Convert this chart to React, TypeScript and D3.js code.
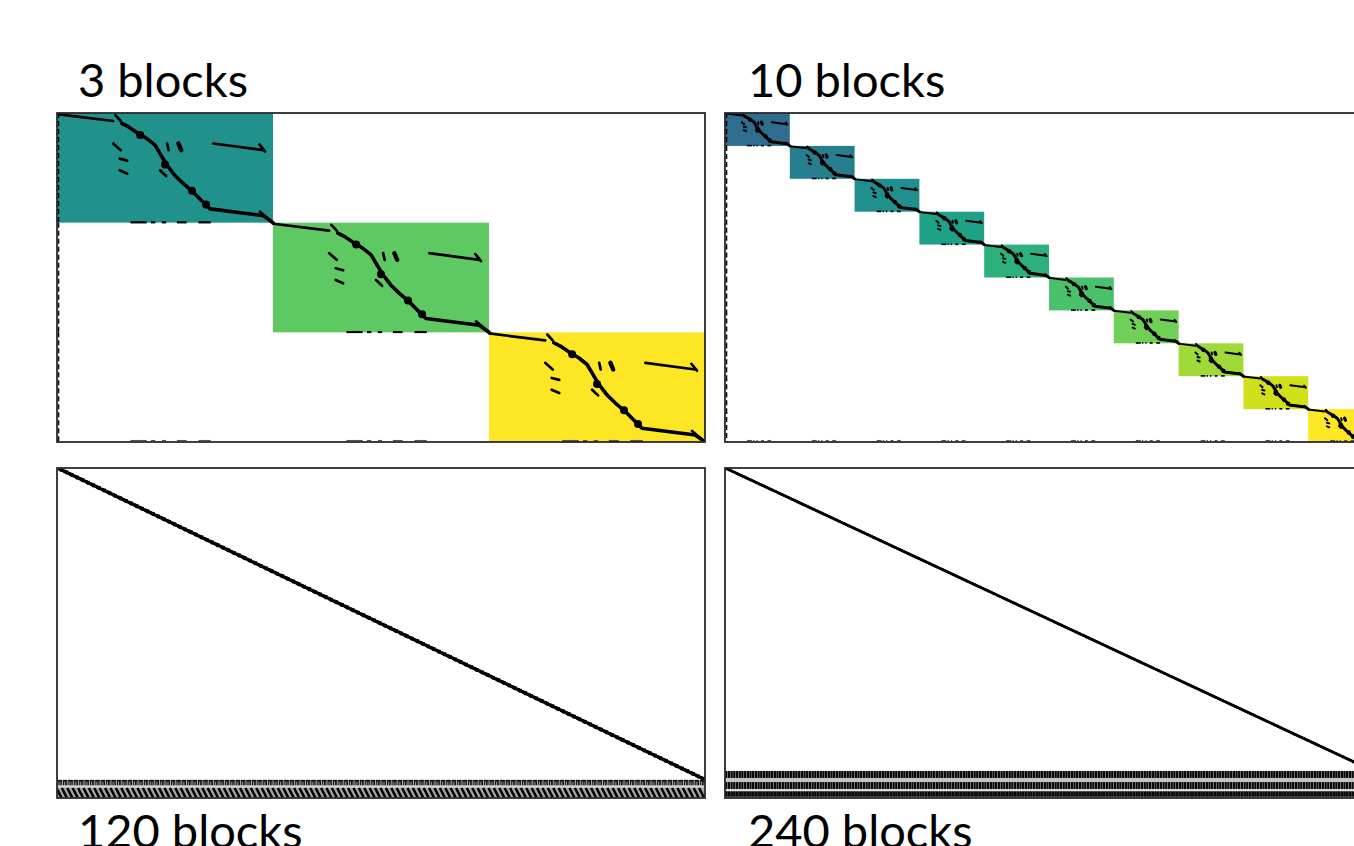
import React from "react";
import * as d3 from "d3";

// ---------- data ----------
const panelTitles = ["3 blocks", "10 blocks", "120 blocks", "240 blocks"];
const blockCounts = [3, 10, 120, 240];
// fraction of matrix rows covered by the diagonal blocks (the rest are coupling rows)
const blockRowShare = [1, 1, 0.945, 0.918];
// viridis position of the first block (last block is always 1)
const colorStart = [0.5, 0.35, 0.35, 0.35];

// sparsity pattern of one block, in unit block coordinates (u = column, v = row)
const patternCurve: [number, number][] = [
  [0.3, 0.095], [0.33, 0.125], [0.376, 0.186], [0.415, 0.232], [0.454, 0.293],
  [0.477, 0.37], [0.5, 0.447], [0.515, 0.49], [0.546, 0.57], [0.585, 0.645],
  [0.63, 0.72], [0.67, 0.8], [0.693, 0.844], [0.708, 0.874], [0.955, 0.936], [1, 1],
];
const patternSegments: [number, number, number, number][] = [
  [0, 0.01, 0.26, 0.073],
  [0.27, 0.02, 0.295, 0.073],
  [0.26, 0.278, 0.295, 0.339],
  [0.29, 0.416, 0.325, 0.434],
  [0.29, 0.523, 0.325, 0.553],
  [0.477, 0.523, 0.505, 0.575],
  [0.51, 0.278, 0.517, 0.339],
  [0.724, 0.278, 0.955, 0.339],
  [0.937, 0.287, 0.963, 0.35],
  [0.94, 0.9, 1, 1],
];
const patternThick: [number, number, number, number][] = [
  [0.562, 0.278, 0.575, 0.339],
];
const patternBlobs: [number, number][] = [
  [0.385, 0.2], [0.5, 0.47], [0.625, 0.71], [0.69, 0.835],
];
// entries of each block in the last rows (u ranges)
const bottomDashes: [number, number][] = [
  [0.34, 0.415], [0.435, 0.455], [0.485, 0.505], [0.555, 0.6], [0.655, 0.712],
];

// coupling-row bands below the blocks (fractions of the coupling strip): [from, to, shade]
const couplingBands120: [number, number, string][] = [
  [0.1, 0.32, "#a8a8a8"], [0.32, 0.42, "#d4d4d4"], [0.42, 0.98, "#a8a8a8"],
];
const couplingBlocks120: [number, number, number, number][] = [
  [0.05, 0.0, 0.95, 0.11], // top row per block
];
const couplingTicks120: number[] = [0.2, 0.55, 0.8];
const couplingSlash120: [number, number, number, number] = [-0.1, 0.45, 0.8, 0.97];

const couplingBands240: [number, number, string][] = [
  [0.26, 0.41, "#c4c4c4"], [0.67, 0.74, "#e0e0e0"], [0.74, 0.98, "#8a8a8a"],
];
const couplingBlocks240: [number, number, number, number][] = [
  [0.0, 0.0, 0.9, 0.26],
  [0.0, 0.41, 0.88, 0.67],
  [0.0, 0.76, 0.93, 0.95],
];

// ---------- layout / styles ----------
const layout = [
  { x: 57, y: 113, w: 648, h: 329, tx: 78, ty: 97, curveW: 3.6, segW: 2.7, blobR: 4, fill: true, leftDash: true },
  { x: 725, y: 113, w: 648, h: 329, tx: 748, ty: 97, curveW: 3.0, segW: 2.0, blobR: 2.2, fill: true, leftDash: true },
  { x: 57, y: 468, w: 648, h: 330, tx: 78, ty: 848, curveW: 3.1, segW: 1.8, blobR: 1.1, fill: false, leftDash: false },
  { x: 725, y: 468, w: 648, h: 330, tx: 748, ty: 848, curveW: 2.6, segW: 1.4, blobR: 0.8, fill: false, leftDash: false },
];

function Panel({ idx }: { idx: number }) {
  const L = layout[idx];
  const n = blockCounts[idx];
  const x = d3.scaleLinear().domain([0, n]).range([L.x, L.x + L.w]);
  const yEnd = L.y + L.h * blockRowShare[idx];
  const y = d3.scaleLinear().domain([0, n]).range([L.y, yEnd]);
  const blocks = d3.range(n);
  const t0 = colorStart[idx];
  const color = (i: number) => d3.interpolateViridis(n === 1 ? 1 : t0 + ((1 - t0) * i) / (n - 1));
  const clipId = `clip${idx}`;
  const line = (i: number) =>
    d3.line<[number, number]>().x((d) => x(i + d[0])).y((d) => y(i + d[1]))(patternCurve) || "";

  const stripTop = yEnd;
  const stripH = L.y + L.h - yEnd;
  const sy = d3.scaleLinear().domain([0, 1]).range([stripTop, stripTop + stripH]);

  return (
    <g>
      <clipPath id={clipId}>
        <rect x={L.x} y={L.y} width={L.w} height={L.h} />
      </clipPath>
      <g clipPath={`url(#${clipId})`}>
        <rect x={L.x} y={L.y} width={L.w} height={L.h} fill="#fff" />
        {L.fill &&
          blocks.map((i) => (
            <rect key={"f" + i} x={x(i)} y={y(i)} width={x(i + 1) - x(i)} height={y(i + 1) - y(i)} fill={color(i)} />
          ))}
        {blocks.map((i) => (
          <g key={"p" + i}>
            <path d={line(i)} fill="none" stroke="#000" strokeWidth={L.curveW} strokeLinejoin="round" strokeLinecap="round" />
            {patternSegments.map((s, k) => (
              <line key={k} x1={x(i + s[0])} y1={y(i + s[1])} x2={x(i + s[2])} y2={y(i + s[3])}
                stroke="#000" strokeWidth={L.segW} strokeLinecap="round" />
            ))}
            {patternThick.map((s, k) => (
              <line key={"t" + k} x1={x(i + s[0])} y1={y(i + s[1])} x2={x(i + s[2])} y2={y(i + s[3])}
                stroke="#000" strokeWidth={L.segW * 1.6} strokeLinecap="round" />
            ))}
            {patternBlobs.map((b, k) => (
              <circle key={"b" + k} cx={x(i + b[0])} cy={y(i + b[1])} r={L.blobR} fill="#000" />
            ))}
            {L.fill &&
              bottomDashes.map((d, k) => (
                <line key={"d" + k} x1={x(i + d[0])} x2={x(i + d[1])} y1={y(i + 1) - 0.3} y2={y(i + 1) - 0.3}
                  stroke="#000" strokeWidth={L.segW * 0.8} />
              ))}
            {L.fill &&
              bottomDashes.map((d, k) => (
                <line key={"c" + k} x1={x(i + d[0])} x2={x(i + d[1])} y1={L.y + L.h - 1.4} y2={L.y + L.h - 1.4}
                  stroke="#555" strokeWidth={1.3} />
              ))}
            {L.leftDash && (
              <line x1={L.x + 1.6} x2={L.x + 1.6} y1={y(i)} y2={y(i + 1)} stroke="#000" strokeWidth={1.4}
                strokeDasharray="5 3" />
            )}
          </g>
        ))}
        {idx === 2 && (
          <g>
            {couplingBands120.map((b, k) => (
              <rect key={"cb" + k} x={L.x} width={L.w} y={sy(b[0])} height={sy(b[1]) - sy(b[0])} fill={b[2]} />
            ))}
            {blocks.map((i) => (
              <g key={"cs" + i}>
                {couplingBlocks120.map((r, k) => (
                  <rect key={k} x={x(i + r[0])} width={x(i + r[2]) - x(i + r[0])} y={sy(r[1])} height={sy(r[3]) - sy(r[1])} fill="#111" />
                ))}
                {couplingTicks120.map((u, k) => (
                  <line key={"k" + k} x1={x(i + u)} x2={x(i + u)} y1={sy(0.1)} y2={sy(0.3)} stroke="#111" strokeWidth={1} />
                ))}
                <line x1={x(i + couplingSlash120[0])} y1={sy(couplingSlash120[1])} x2={x(i + couplingSlash120[2])}
                  y2={sy(couplingSlash120[3])} stroke="#000" strokeWidth={2.6} />
              </g>
            ))}
          </g>
        )}
        {idx === 3 && (
          <g>
            {couplingBands240.map((b, k) => (
              <rect key={"cb" + k} x={L.x} width={L.w} y={sy(b[0])} height={sy(b[1]) - sy(b[0])} fill={b[2]} />
            ))}
            {blocks.map((i) => (
              <g key={"cs" + i}>
                {couplingBlocks240.map((r, k) => (
                  <rect key={k} x={x(i + r[0])} width={x(i + r[2]) - x(i + r[0])} y={sy(r[1])} height={sy(r[3]) - sy(r[1])} fill="#0a0a0a" />
                ))}
              </g>
            ))}
          </g>
        )}
      </g>
      <rect x={L.x} y={L.y} width={L.w} height={L.h} fill="none" stroke="#2a2a2a" strokeWidth={1.8} />
      <text x={L.tx} y={L.ty} fontFamily="Lato, 'Open Sans', sans-serif" fontSize={47} fill="#000">
        {panelTitles[idx]}
      </text>
    </g>
  );
}

export default function App() {
  return (
    <svg width={1354} height={846} style={{ position: "absolute", left: 0, top: 0, background: "#fff" }}>
      <rect x={0} y={0} width={1354} height={846} fill="#fff" />
      {layout.map((_, i) => (
        <Panel key={i} idx={i} />
      ))}
    </svg>
  );
}
